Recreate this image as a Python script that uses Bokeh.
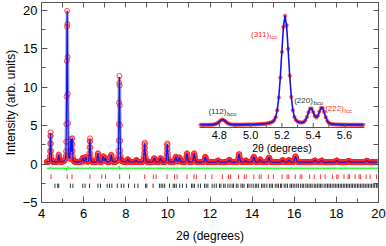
import numpy as np
from bokeh.plotting import figure
from bokeh.models import Range1d, LinearAxis, FixedTicker
from bokeh.embed import file_html
from bokeh.resources import INLINE
from bokeh.core.properties import value

# ---------------- data ----------------
two_theta_start, two_theta_end, two_theta_step = 4.25, 20.0, 0.01
background = 0.25
peak_pos = [4.43, 4.82, 5.22, 5.385, 5.455, 5.96, 6.10, 6.30, 6.68, 6.93,
            7.04, 7.31, 7.70, 8.10, 8.50, 8.90, 9.35, 9.65, 9.97, 10.38,
            10.55, 10.91, 11.25, 11.78, 12.38, 12.92, 13.38, 13.70, 14.08, 14.38,
            14.80, 15.45, 15.75, 16.06, 16.98, 17.30, 18.02, 18.58, 19.45]
peak_height = [4.0, 1.2, 19.9, 3.1, 3.3, 0.8, 0.9, 3.2, 1.4, 1.0,
               0.8, 1.2, 11.3, 0.6, 0.5, 2.7, 0.75, 0.75, 2.6, 0.95,
               0.85, 1.4, 1.4, 0.95, 0.45, 0.55, 1.3, 0.45, 0.95, 0.6,
               0.85, 0.5, 0.5, 1.0, 0.45, 0.45, 0.45, 0.4, 0.42]
peak_fwhm = [0.05, 0.05, 0.055, 0.045, 0.045, 0.06, 0.06, 0.05, 0.06, 0.06,
             0.06, 0.06, 0.055, 0.07, 0.07, 0.06, 0.07, 0.07, 0.06, 0.07,
             0.07, 0.07, 0.07, 0.07, 0.08, 0.08, 0.07, 0.08, 0.08, 0.08,
             0.08, 0.09, 0.09, 0.08, 0.09, 0.09, 0.09, 0.09, 0.09]
lorentz_fraction = 0.25

resid_pos = [4.43, 5.20, 5.24, 6.30, 7.69, 7.72, 8.90, 9.97]
resid_amp = [0.12, -0.30, 0.22, 0.12, 0.28, -0.18, 0.08, 0.08]
diff_offset = -0.55

fcc_ticks = [4.45, 5.22, 5.45, 6.30, 6.86, 7.04, 7.71, 8.18, 8.90, 9.31, 9.44,
             9.96, 10.32, 10.44, 10.91, 11.24, 11.35, 11.78, 12.09, 12.59, 12.88,
             12.98, 13.36, 13.63, 13.72, 14.08, 14.34, 14.43, 14.77, 15.01, 15.42,
             15.66, 15.74, 16.05, 16.28, 16.36, 16.73, 16.95, 17.24, 17.46, 17.81,
             18.02, 18.08, 18.36, 18.56, 18.62, 18.89, 19.08, 19.15, 19.41, 19.60,
             19.91]
bco_ticks = [4.64, 4.77, 4.82, 5.37, 5.49, 5.96, 6.07, 6.28, 6.68, 6.80, 7.12,
             7.23, 7.34, 7.60, 7.79, 7.91, 8.13, 8.42, 8.58, 8.94, 9.00, 9.30,
             9.60, 9.68, 9.76, 9.85, 10.08, 10.25, 10.32, 10.40, 10.56, 10.69,
             10.88, 11.12, 11.19, 11.26, 11.44, 11.55, 11.74, 11.82, 11.90, 12.10,
             12.20, 12.30, 12.45, 12.52, 12.65, 12.72, 12.85, 12.95, 13.05, 13.12,
             13.25, 13.33, 13.47, 13.55, 13.62, 13.78, 13.85, 13.95, 14.05, 14.15,
             14.22, 14.30, 14.45, 14.52, 14.60, 14.70, 14.82, 14.90, 14.97, 15.10,
             15.18, 15.25, 15.35, 15.40, 15.52, 15.60, 15.68, 15.80, 15.87, 15.95,
             16.03, 16.12, 16.20, 16.30, 16.38, 16.45, 16.55, 16.62, 16.70, 16.78,
             16.85, 16.95, 17.02, 17.10, 17.18, 17.25, 17.32, 17.42, 17.50, 17.58,
             17.65, 17.72, 17.80, 17.88, 17.95, 18.03, 18.10, 18.18, 18.25, 18.33,
             18.40, 18.48, 18.55, 18.62, 18.70, 18.77, 18.85, 18.92, 19.00, 19.07,
             19.15, 19.22, 19.30, 19.37, 19.45, 19.52, 19.60, 19.67, 19.75, 19.82,
             19.90, 19.97]

x_ticks = [4, 6, 8, 10, 12, 14, 16, 18, 20]
x_minor = [5, 7, 9, 11, 13, 15, 17, 19]
y_ticks = [-5, 0, 5, 10, 15, 20]
y_minor = [-2.5, 2.5, 7.5, 12.5, 17.5]

inset_ticks = [4.8, 5.0, 5.2, 5.4, 5.6]
inset_tick_labels = ["4.8", "5.0", "5.2", "5.4", "5.6"]
inset_minor = [4.7, 4.9, 5.1, 5.3, 5.5, 5.7]

ann_pos = [4.82, 5.22, 5.385, 5.455]
ann_main = ["(112)", "(311)", "(220)", "(222)"]
ann_sub = ["bco", "fcc", "bco", "fcc"]

# ---------------- profile from the peak table ----------------
tt = np.round(np.arange(two_theta_start, two_theta_end + two_theta_step / 2, two_theta_step), 4)


def pseudo_voigt(x, x0, w):
    u = (x - x0) / w
    return lorentz_fraction / (1 + 4 * u * u) + (1 - lorentz_fraction) * np.exp(-4 * np.log(2) * u * u)


calc = np.full_like(tt, background)
for p0, h, w in zip(peak_pos, peak_height, peak_fwhm):
    calc += (h - background) * pseudo_voigt(tt, p0, w)
resid = np.zeros_like(tt)
for p0, a in zip(resid_pos, resid_amp):
    resid += a * np.exp(-((tt - p0) / 0.015) ** 2)
obs = calc + resid
diff = obs - calc + diff_offset

FONT = value("Liberation Sans")
FRAME = "#555555"

p = figure(width=386, height=246, x_range=Range1d(4, 20), y_range=Range1d(-5, 21),
           output_backend="svg", toolbar_location=None,
           min_border_left=0, min_border_right=8, min_border_top=2, min_border_bottom=44)
p.grid.visible = False
p.outline_line_color = FRAME
p.background_fill_color = "white"

for ax in (p.xaxis[0], p.yaxis[0]):
    ax.major_tick_out = 0
    ax.major_tick_in = 6
    ax.minor_tick_out = 0
    ax.minor_tick_in = 4
    ax.axis_line_color = FRAME
    ax.major_tick_line_color = FRAME
    ax.minor_tick_line_color = FRAME
    ax.major_label_text_font = "Liberation Sans"
    ax.major_label_text_font_size = "13px"
    ax.major_label_text_color = "black"
    ax.axis_label_text_font = "Liberation Sans"
    ax.axis_label_text_font_size = "12px"
    ax.axis_label_text_font_style = "normal"
    ax.axis_label_text_color = "black"

p.xaxis[0].ticker = FixedTicker(ticks=x_ticks, minor_ticks=x_minor)
p.yaxis[0].ticker = FixedTicker(ticks=y_ticks, minor_ticks=y_minor)
p.xaxis[0].axis_label = "2θ (degrees)"
p.yaxis[0].axis_label = "Intensity (arb. units)"
p.xaxis[0].major_label_standoff = 6
p.xaxis[0].axis_label_standoff = 8
p.yaxis[0].major_label_standoff = 4
p.yaxis[0].axis_label_standoff = 2

# frame-side ticks without labels (only minor ticks, so no label texts)
top = LinearAxis(ticker=FixedTicker(ticks=[], minor_ticks=sorted(x_ticks + x_minor)))
right = LinearAxis(ticker=FixedTicker(ticks=[], minor_ticks=sorted(y_ticks + y_minor)))
for ax in (top, right):
    ax.major_tick_out = 0
    ax.major_tick_in = 0
    ax.minor_tick_out = 0
    ax.minor_tick_in = 5
    ax.axis_line_color = FRAME
    ax.minor_tick_line_color = FRAME
    ax.major_label_standoff = 0
p.add_layout(top, "above")
p.add_layout(right, "right")

# ---------------- main pattern ----------------
p.line(tt, calc, line_color="#9a9ae0", line_width=3.5, line_alpha=0.7)
p.scatter(tt, obs, marker="circle", size=5, line_color="#ff2020", line_width=0.8,
          fill_color="#ffb0b0", fill_alpha=0.25)
p.line(tt, calc, line_color="#1515e0", line_width=1.2)
p.line(tt, diff, line_color="#30ff30", line_width=1.3)

p.segment(x0=fcc_ticks, y0=[-1.95] * len(fcc_ticks), x1=fcc_ticks, y1=[-1.35] * len(fcc_ticks),
          line_color="#ff3030", line_width=1)
p.segment(x0=bco_ticks, y0=[-3.1] * len(bco_ticks), x1=bco_ticks, y1=[-2.55] * len(bco_ticks),
          line_color="#333333", line_width=1)

# ---------------- inset (own ranges) ----------------
inset_src_x = (4.673, 5.727)
inset_src_y = (-0.2, 22.3)
inset_box_x = (11.5, 19.33)
inset_box_y = (4.75, 21.0)


def extend(src, box, full):
    k = (src[1] - src[0]) / (box[1] - box[0])
    return (src[0] + (full[0] - box[0]) * k, src[0] + (full[1] - box[0]) * k)


p.extra_x_ranges = {"ix": Range1d(*extend(inset_src_x, inset_box_x, (4, 20)))}
p.extra_y_ranges = {"iy": Range1d(*extend(inset_src_y, inset_box_y, (-5, 21)))}
IR = dict(x_range_name="ix", y_range_name="iy")

m = (tt >= inset_src_x[0]) & (tt <= inset_src_x[1])
p.scatter(tt[m], obs[m], marker="circle", size=3.5, line_color="#ff2020", line_width=0.5,
          fill_color="#ff3030", fill_alpha=0.8, **IR)
p.line(tt[m], calc[m], line_color="#1515e0", line_width=1.6, **IR)

y0 = inset_src_y[0]
p.segment(x0=[inset_src_x[0]], y0=[y0], x1=[inset_src_x[1]], y1=[y0], line_color=FRAME, line_width=1, **IR)
p.segment(x0=inset_ticks, y0=[y0] * len(inset_ticks), x1=inset_ticks, y1=[y0 + 0.8] * len(inset_ticks),
          line_color=FRAME, line_width=1, **IR)
p.segment(x0=inset_minor, y0=[y0] * len(inset_minor), x1=inset_minor, y1=[y0 + 0.5] * len(inset_minor),
          line_color=FRAME, line_width=1, **IR)
p.text(x=inset_ticks, y=[y0] * len(inset_ticks), text=inset_tick_labels, text_font=FONT,
       text_font_size="11px", text_align="center", text_baseline="top", y_offset=3,
       text_color="black", **IR)
p.text(x=[(inset_src_x[0] + inset_src_x[1]) / 2], y=[y0], text=["2θ (degrees)"], text_font=FONT,
       text_font_size="10.5px", text_align="center", text_baseline="top", y_offset=14,
       text_color="black", **IR)

# annotations anchored to the peak tops
ann_h = [float(np.interp(a, tt, obs)) for a in ann_pos]
ann_col = ["#333333", "#ff2a2a", "#333333", "#ff2a2a"]
ann_dx = [4, -16, 2, 22]
ann_dy = [-8, 19, -8, 1]
for a, h, t1, t2, c, dx, dy in zip(ann_pos, ann_h, ann_main, ann_sub, ann_col, ann_dx, ann_dy):
    p.text(x=[a], y=[h], text=[t1], text_font=FONT, text_font_size="8px", text_align="right",
           text_baseline="middle", x_offset=dx, y_offset=dy, text_color=c, **IR)
    p.text(x=[a], y=[h], text=[t2], text_font=FONT, text_font_size="6px", text_align="left",
           text_baseline="middle", x_offset=dx + 0.5, y_offset=dy + 2.5, text_color=c, **IR)

open("out.html", "w").write(file_html(p, INLINE))
